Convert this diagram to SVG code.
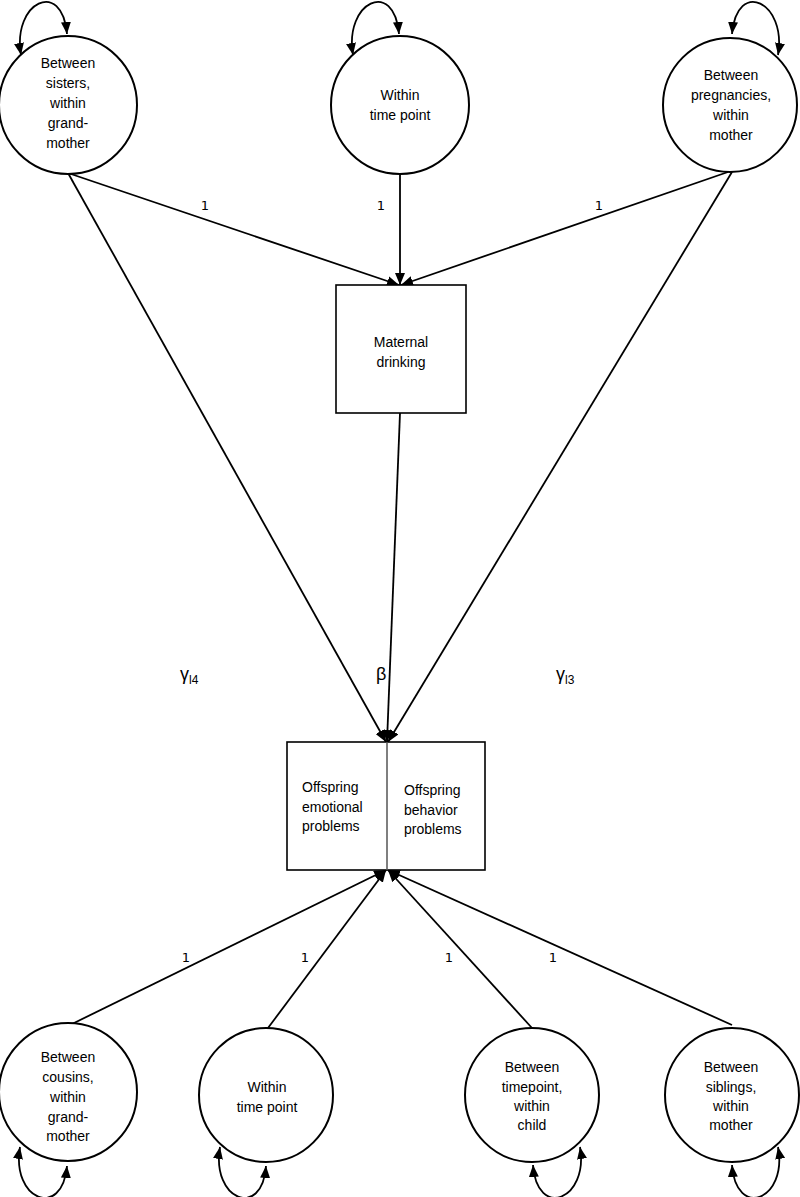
<svg xmlns="http://www.w3.org/2000/svg" width="800" height="1197" viewBox="0 0 800 1197">
<style>
.node{fill:#fff;stroke:#000;stroke-width:2}
.box{fill:#fff;stroke:#000;stroke-width:1.6}
.t{font-family:"Liberation Sans",Arial,sans-serif;font-size:14px;fill:#000;text-anchor:middle}
.tl{font-family:"Liberation Sans",Arial,sans-serif;font-size:14px;fill:#000}
.lbl{font-family:"DejaVu Sans","Liberation Sans",sans-serif;font-size:13px;fill:#000;text-anchor:middle}
.g{font-family:"Liberation Sans",Arial,sans-serif;font-size:18px;fill:#000}
.c{fill:none;stroke:#000;stroke-width:1.8}
</style>
<defs>
<marker id="ah" markerUnits="userSpaceOnUse" markerWidth="12" markerHeight="10" refX="12" refY="5" orient="auto-start-reverse">
<path d="M0,0 L12,5 L0,10 z" fill="#000"/>
</marker>
</defs>
<g id="connectors">
<path class="c" d="M21,55 C12,2 62,-22 67,34" marker-start="url(#ah)" marker-end="url(#ah)"/>
<path class="c" d="M353,55 C344,2 394,-22 399,34" marker-start="url(#ah)" marker-end="url(#ah)"/>
<path class="c" d="M732,34 C737,-22 787,2 778,55" marker-start="url(#ah)" marker-end="url(#ah)"/>
<path class="c" d="M20,1147 C11,1200 62,1220 67,1166" marker-start="url(#ah)" marker-end="url(#ah)"/>
<path class="c" d="M220,1147 C211,1200 262,1220 266,1166" marker-start="url(#ah)" marker-end="url(#ah)"/>
<path class="c" d="M533,1165 C537,1220 589,1200 580,1147" marker-start="url(#ah)" marker-end="url(#ah)"/>
<path class="c" d="M732,1165 C736,1220 788,1200 778,1147" marker-start="url(#ah)" marker-end="url(#ah)"/>
<line class="c" x1="68" y1="173" x2="399" y2="285" marker-end="url(#ah)"/>
<line class="c" x1="400" y1="175" x2="400" y2="285" marker-end="url(#ah)"/>
<line class="c" x1="728" y1="172" x2="401" y2="285" marker-end="url(#ah)"/>
<line class="c" x1="68" y1="173" x2="386" y2="742" marker-end="url(#ah)"/>
<line class="c" x1="400" y1="413" x2="387" y2="742" marker-end="url(#ah)"/>
<line class="c" x1="732" y1="172" x2="388" y2="742" marker-end="url(#ah)"/>
<line class="c" x1="72" y1="1024" x2="386" y2="870" marker-end="url(#ah)"/>
<line class="c" x1="268" y1="1028" x2="386" y2="870" marker-end="url(#ah)"/>
<line class="c" x1="532" y1="1028" x2="388" y2="870" marker-end="url(#ah)"/>
<line class="c" x1="732" y1="1025" x2="388" y2="870" marker-end="url(#ah)"/>
<text class="lbl" x="205" y="210">1</text>
<text class="lbl" x="381" y="210">1</text>
<text class="lbl" x="599" y="210">1</text>
<text class="lbl" x="186" y="962">1</text>
<text class="lbl" x="305" y="962">1</text>
<text class="lbl" x="449" y="962">1</text>
<text class="lbl" x="553" y="962">1</text>
<text class="g" x="180" y="680">γ<tspan font-size="12" dy="4">l4</tspan></text>
<text class="g" x="376" y="680">β</text>
<text class="g" x="556" y="680">γ<tspan font-size="12" dy="4">l3</tspan></text>
</g>
<g id="n_sisters">
<circle class="node" cx="68" cy="105" r="69"/>
<text class="t" x="68" y="68">Between</text>
<text class="t" x="68" y="88">sisters,</text>
<text class="t" x="68" y="108">within</text>
<text class="t" x="68" y="128">grand-</text>
<text class="t" x="68" y="148">mother</text>
</g>
<g id="n_within_top">
<circle class="node" cx="400" cy="105" r="69"/>
<text class="t" x="400" y="100">Within</text>
<text class="t" x="400" y="120">time point</text>
</g>
<g id="n_pregnancies">
<circle class="node" cx="730" cy="105" r="67"/>
<text class="t" x="731" y="80">Between</text>
<text class="t" x="731" y="100">pregnancies,</text>
<text class="t" x="731" y="120">within</text>
<text class="t" x="731" y="140">mother</text>
</g>
<g id="n_drinking">
<rect class="box" x="336" y="285" width="130" height="128"/>
<text class="t" x="401" y="347">Maternal</text>
<text class="t" x="401" y="367">drinking</text>
</g>
<g id="n_offspring">
<rect class="box" x="287" y="742" width="198" height="128"/>
<line x1="387" y1="742" x2="387" y2="870" stroke="#555" stroke-width="1.5"/>
<text class="tl" x="302" y="792">Offspring</text>
<text class="tl" x="302" y="812">emotional</text>
<text class="tl" x="302" y="831">problems</text>
<text class="tl" x="404" y="795">Offspring</text>
<text class="tl" x="404" y="815">behavior</text>
<text class="tl" x="404" y="834">problems</text>
</g>
<g id="n_cousins">
<circle class="node" cx="68" cy="1092" r="69"/>
<text class="t" x="68" y="1062">Between</text>
<text class="t" x="68" y="1082">cousins,</text>
<text class="t" x="68" y="1102">within</text>
<text class="t" x="68" y="1122">grand-</text>
<text class="t" x="68" y="1141">mother</text>
</g>
<g id="n_within_bottom">
<circle class="node" cx="266" cy="1095" r="67"/>
<text class="t" x="267" y="1092">Within</text>
<text class="t" x="267" y="1112">time point</text>
</g>
<g id="n_timepoint">
<circle class="node" cx="532" cy="1095" r="67"/>
<text class="t" x="532" y="1072">Between</text>
<text class="t" x="532" y="1092">timepoint,</text>
<text class="t" x="532" y="1111">within</text>
<text class="t" x="532" y="1130">child</text>
</g>
<g id="n_siblings">
<circle class="node" cx="732" cy="1095" r="67"/>
<text class="t" x="731" y="1072">Between</text>
<text class="t" x="731" y="1092">siblings,</text>
<text class="t" x="731" y="1111">within</text>
<text class="t" x="731" y="1130">mother</text>
</g>
</svg>
